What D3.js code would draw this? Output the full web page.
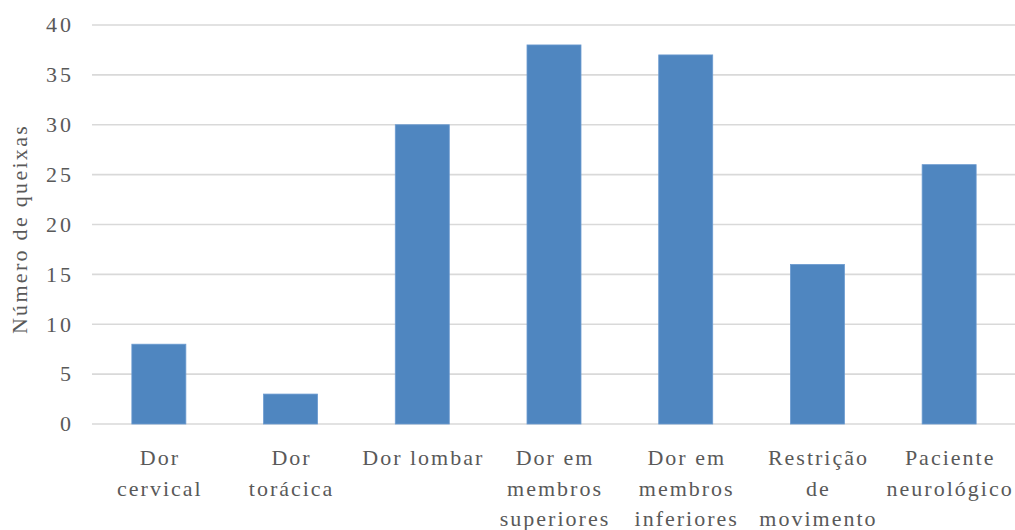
<!DOCTYPE html>
<html>
<head>
<meta charset="utf-8">
<script src="https://cdn.jsdelivr.net/npm/d3@7"></script>
<style>
  html, body { margin: 0; padding: 0; background: #fff; }
  svg { display: block; }
  svg text { font-family: "Liberation Serif", serif !important; }
</style>
</head>
<body>
<svg id="chart" width="1015" height="530" style="font-family: 'Liberation Serif', serif"></svg>
<script>
const categories = ["Dor cervical", "Dor torácica", "Dor lombar", "Dor em membros superiores",
  "Dor em membros inferiores", "Restrição de movimento", "Paciente neurológico"];
const labelLines = [["Dor", "cervical"], ["Dor", "torácica"], ["Dor lombar"],
  ["Dor em", "membros", "superiores"], ["Dor em", "membros", "inferiores"],
  ["Restrição", "de", "movimento"], ["Paciente", "neurológico"]];
const values = [8, 3, 30, 38, 37, 16, 26];
const yTicks = [0, 5, 10, 15, 20, 25, 30, 35, 40];
const yTitle = "Número de queixas";

const FONT = "Liberation Serif";
const svg = d3.select("#chart");
const mLeft = 93, mRight = 1015, mTop = 25, mBottom = 424;

const x = d3.scaleBand().domain(categories).range([mLeft, mRight]).padding(0);
const y = d3.scaleLinear().domain([0, 40]).range([mBottom, mTop]);
const barW = x.bandwidth() * 0.41;

// gridlines
svg.append("g").selectAll("line").data(yTicks).join("line")
  .attr("x1", mLeft - 1).attr("x2", mRight)
  .attr("y1", d => y(d)).attr("y2", d => y(d))
  .attr("stroke", "#d9d9d9").attr("stroke-width", 1.6);

// y tick labels
svg.append("g").selectAll("text").data(yTicks).join("text")
  .attr("x", 74).attr("y", d => y(d)).attr("dy", "0.33em")
  .attr("text-anchor", "end")
  .style("font-family", FONT, "important").style("fill", "#595959")
  .style("font-size", "22px").style("letter-spacing", "3px")
  .text(d => d);

// bars
svg.append("g").selectAll("rect").data(values).join("rect")
  .attr("x", (d, i) => x(categories[i]) + x.bandwidth() / 2 - barW / 2)
  .attr("width", barW)
  .attr("y", d => y(d))
  .attr("height", d => y(0) - y(d))
  .attr("fill", "#4f86c0")
  .attr("stroke", "#6c9bd0").attr("stroke-width", 0.8);

// x labels
const xl = svg.append("g").selectAll("text").data(categories).join("text")
  .attr("text-anchor", "middle")
  .style("font-family", FONT, "important").style("fill", "#595959")
  .attr("transform", (d) => `translate(${x(d) + x.bandwidth() / 2 + 1},0)`)
  .style("font-size", "22px").style("letter-spacing", "2px");
xl.each(function(d, i) {
  const t = d3.select(this);
  labelLines[i].forEach((ln, j) => {
    t.append("tspan").attr("x", 0).attr("y", 465 + j * 30.5).text(ln);
  });
});

// y title
svg.append("text")
  .attr("transform", "translate(27,229) rotate(-90)")
  .attr("text-anchor", "middle")
  .style("font-family", FONT, "important").style("fill", "#595959")
  .style("font-size", "22px").style("letter-spacing", "2.3px")
  .text(yTitle);
</script>
</body>
</html>
